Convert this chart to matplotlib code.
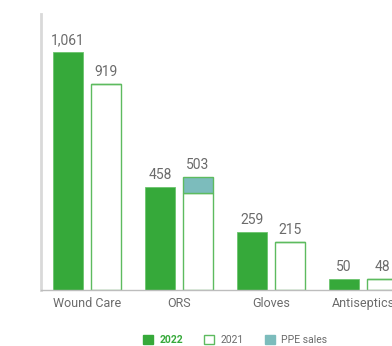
import numpy as np
import matplotlib.pyplot as plt
from matplotlib.patches import Patch

categories = ['Wound Care', 'ORS', 'Gloves', 'Antiseptics']
sales_2022 = [1061, 458, 259, 50]
sales_2021 = [919, 503, 215, 48]
ppe_2021 = [0, 70, 0, 0]

green = '#36a93a'
green_line = '#5dbb5f'
teal = '#7cbcbc'
grey_text = '#6b6b6b'

plt.rcParams['font.family'] = ['Roboto', 'DejaVu Sans']

fig = plt.figure(figsize=(3.92, 3.46), dpi=100)
ax = fig.add_axes([41 / 392, 56 / 346, 351 / 392, 276 / 346])

x = np.arange(len(categories))
w = 0.326
off = 0.207

# 2021 bars split into core sales and PPE sales on top
base_2021 = np.array(sales_2021) - np.array(ppe_2021)
ax.bar(x - off, sales_2022, w, color=green, edgecolor='#6cc46e', linewidth=0.6)
ax.bar(x + off, base_2021, w, color='white', edgecolor=green_line, linewidth=1)
ax.bar(x + off, ppe_2021, w, bottom=base_2021, color=teal, edgecolor=green_line, linewidth=1)

for xi, v in zip(x, sales_2022):
    ax.text(xi - off, v + 22, f'{v:,}', ha='center', va='bottom', fontsize=10, color=grey_text)
for xi, v in zip(x, sales_2021):
    ax.text(xi + off, v + 22, f'{v:,}', ha='center', va='bottom', fontsize=10, color=grey_text)

ax.set_xlim(-0.5, 3.315)
ax.set_ylim(0, 1230)
ax.set_xticks(x)
ax.set_xticklabels(categories, fontsize=9, color=grey_text)
ax.tick_params(axis='x', length=0, pad=5)
ax.set_yticks([])
for s in ['top', 'right']:
    ax.spines[s].set_visible(False)
ax.spines['left'].set_color('#d9d9d9')
ax.spines['left'].set_linewidth(2)
ax.spines['bottom'].set_color('#bdbdbd')
ax.spines['bottom'].set_linewidth(1)

handles = [
    Patch(facecolor=green, edgecolor=green),
    Patch(facecolor='white', edgecolor=green_line),
    Patch(facecolor=teal, edgecolor=teal),
]
leg = fig.legend(handles, ['2022', '2021', 'PPE sales'], loc='center', bbox_to_anchor=(235 / 392, 1 - 340 / 346),
                 ncol=3, frameon=False, fontsize=7.5, handlelength=1.0, handleheight=1.0,
                 handletextpad=0.6, columnspacing=2.0)
texts = leg.get_texts()
texts[0].set_color(green)
texts[0].set_fontweight('bold')
texts[1].set_color(grey_text)
texts[2].set_color(grey_text)

fig.savefig('out.png', dpi=100)
